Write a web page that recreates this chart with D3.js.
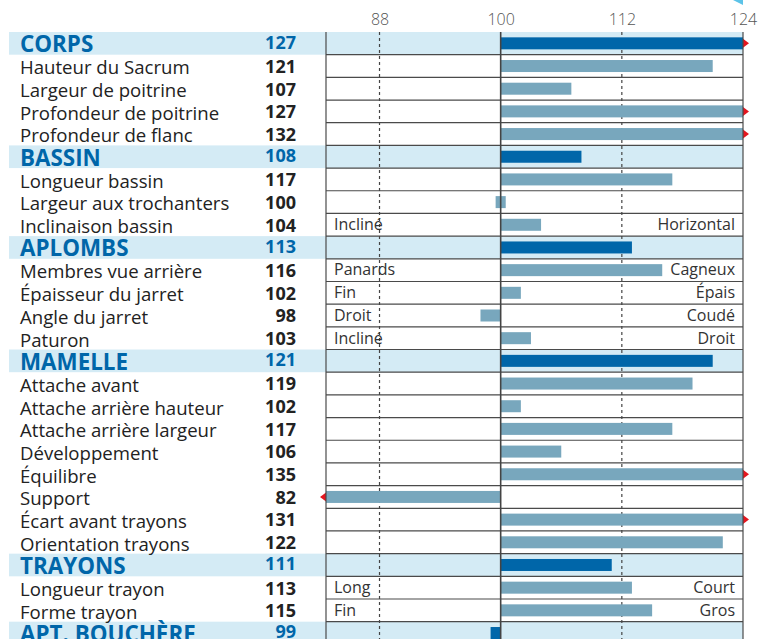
<!DOCTYPE html>
<html>
<head>
<meta charset="utf-8">
<script src="https://cdn.jsdelivr.net/npm/d3@7"></script>
<style>
  body { margin: 0; background: #fff; }
  svg { display: block; font-family: "Open Sans", sans-serif; }
</style>
</head>
<body>
<div id="chart"></div>
<script>
// rows, top to bottom (the list runs past the bottom of the picture)
const labels = [
  "CORPS", "Hauteur du Sacrum", "Largeur de poitrine", "Profondeur de poitrine", "Profondeur de flanc",
  "BASSIN", "Longueur bassin", "Largeur aux trochanters", "Inclinaison bassin",
  "APLOMBS", "Membres vue arrière", "Épaisseur du jarret", "Angle du jarret", "Paturon",
  "MAMELLE", "Attache avant", "Attache arrière hauteur", "Attache arrière largeur", "Développement",
  "Équilibre", "Support", "Écart avant trayons", "Orientation trayons",
  "TRAYONS", "Longueur trayon", "Forme trayon",
  "APT. BOUCHÈRE"
];
const values = [
  127, 121, 107, 127, 132,
  108, 117, 100, 104,
  113, 116, 102, 98, 103,
  121, 119, 102, 117, 106,
  135, 82, 131, 122,
  111, 113, 115,
  99
];
const headers = ["CORPS", "BASSIN", "APLOMBS", "MAMELLE", "TRAYONS", "APT. BOUCHÈRE"];
const leftHints = {
  "Inclinaison bassin": "Incliné", "Membres vue arrière": "Panards", "Épaisseur du jarret": "Fin",
  "Angle du jarret": "Droit", "Paturon": "Incliné", "Longueur trayon": "Long", "Forme trayon": "Fin"
};
const rightHints = {
  "Inclinaison bassin": "Horizontal", "Membres vue arrière": "Cagneux", "Épaisseur du jarret": "Épais",
  "Angle du jarret": "Coudé", "Paturon": "Droit", "Longueur trayon": "Court", "Forme trayon": "Gros"
};
const ticks = [88, 100, 112, 124];
const dashed = [88, 112];

const rows = labels.map((l, i) => ({ label: l, value: values[i], header: headers.includes(l) }));

const W = 769, H = 639;
const topY = 32, rowH = 22.68;
const plotL = 326, plotR = 743;

const svg = d3.select("#chart").append("svg").attr("width", W).attr("height", H);

const x = d3.scaleLinear().domain([82.7, 124]).range([plotL, plotR]);
const y = d3.scaleBand().domain(d3.range(rows.length))
  .range([topY, topY + rows.length * rowH]).padding(0);

const bottomY = topY + rows.length * rowH;

// header bands
svg.selectAll("rect.band").data(rows.filter(d => d.header)).join("rect")
  .attr("class", "band")
  .attr("x", 9).attr("width", plotR - 9)
  .attr("y", d => y(rows.indexOf(d))).attr("height", rowH)
  .attr("fill", "#d4ebf5");

// row separators in the plot area
svg.selectAll("line.sep").data(d3.range(1, rows.length)).join("line")
  .attr("class", "sep")
  .attr("x1", plotL).attr("x2", plotR)
  .attr("y1", i => y(i)).attr("y2", i => y(i))
  .attr("stroke", "#4a4a4a").attr("stroke-width", 1.2);

// dashed reference lines
svg.selectAll("line.dash").data(dashed).join("line")
  .attr("class", "dash")
  .attr("x1", d => x(d)).attr("x2", d => x(d))
  .attr("y1", topY).attr("y2", bottomY)
  .attr("stroke", "#444").attr("stroke-width", 1.2)
  .attr("stroke-dasharray", "3,3");

// bars, clipped to the axis
const lo = x.domain()[0], hi = x.domain()[1];
const barH = 12;
function barExtent(v) {
  if (v === 100) return [99.5, 100.5];
  return [Math.max(lo, Math.min(v, 100)), Math.min(hi, Math.max(v, 100))];
}
svg.selectAll("rect.bar").data(rows).join("rect")
  .attr("class", "bar")
  .attr("x", d => x(barExtent(d.value)[0]))
  .attr("width", d => x(barExtent(d.value)[1]) - x(barExtent(d.value)[0]))
  .attr("y", (d, i) => y(i) + (rowH - barH) / 2)
  .attr("height", barH)
  .attr("fill", d => d.header ? "#0066a9" : "#78a7bd");

// red arrows where a value runs off the scale
svg.selectAll("path.over").data(rows.filter(d => d.value > hi || d.value < lo)).join("path")
  .attr("class", "over")
  .attr("d", d => {
    const cy = y(rows.indexOf(d)) + rowH / 2;
    if (d.value > hi) {
      const x0 = x(hi);
      return `M${x0},${cy - 4.5}L${x0 + 6},${cy}L${x0},${cy + 4.5}Z`;
    }
    const x0 = x(lo);
    return `M${x0},${cy - 4.5}L${x0 - 6},${cy}L${x0},${cy + 4.5}Z`;
  })
  .attr("fill", "#e3161f");

// frame: left, right borders and the 100 line
svg.selectAll("line.frame").data([lo, hi]).join("line")
  .attr("class", "frame")
  .attr("x1", d => x(d)).attr("x2", d => x(d))
  .attr("y1", topY).attr("y2", bottomY)
  .attr("stroke", "#4a4a4a").attr("stroke-width", 1.2);
svg.append("line")
  .attr("x1", x(100)).attr("x2", x(100))
  .attr("y1", topY).attr("y2", bottomY)
  .attr("stroke", "#444").attr("stroke-width", 1.6);

// top axis labels
const axis = svg.append("g").attr("transform", `translate(0,${topY})`)
  .call(d3.axisTop(x).tickValues(ticks).tickSize(0).tickPadding(7));
axis.select(".domain").remove();
axis.selectAll("text")
  .attr("font-family", "Open Sans, sans-serif")
  .attr("font-size", 16).attr("font-weight", 300).attr("fill", "#555");

// small cyan mark top right
svg.append("path")
  .attr("d", `M${x(124) - 10},0L${x(124)},0L${x(124)},5Z`)
  .attr("fill", "#5cc3e8");

// row labels
svg.selectAll("text.lab").data(rows).join("text")
  .attr("class", "lab")
  .attr("x", 20)
  .attr("y", (d, i) => y(i) + rowH - (d.header ? 2.5 : 3))
  .attr("font-size", d => d.header ? 22.4 : 18.6)
  .attr("font-weight", d => d.header ? 700 : 400)
  .attr("fill", d => d.header ? "#0066a9" : "#222")
  .text(d => d.label);

// values
svg.selectAll("text.val").data(rows).join("text")
  .attr("class", "val")
  .attr("x", 296)
  .attr("text-anchor", "end")
  .attr("y", (d, i) => y(i) + rowH - (d.header ? 6 : 4.5))
  .attr("font-size", 18)
  .attr("font-weight", 700)
  .attr("fill", d => d.header ? "#0066a9" : "#222")
  .text(d => d.value);

// hint words at both ends of some rows
svg.selectAll("text.hl").data(rows.filter(d => leftHints[d.label])).join("text")
  .attr("class", "hl")
  .attr("x", 334)
  .attr("y", d => y(rows.indexOf(d)) + rowH - 6)
  .attr("font-size", 16).attr("fill", "#333")
  .text(d => leftHints[d.label]);
svg.selectAll("text.hr").data(rows.filter(d => rightHints[d.label])).join("text")
  .attr("class", "hr")
  .attr("x", 735).attr("text-anchor", "end")
  .attr("y", d => y(rows.indexOf(d)) + rowH - 6)
  .attr("font-size", 16).attr("fill", "#333")
  .text(d => rightHints[d.label]);
</script>
</body>
</html>
